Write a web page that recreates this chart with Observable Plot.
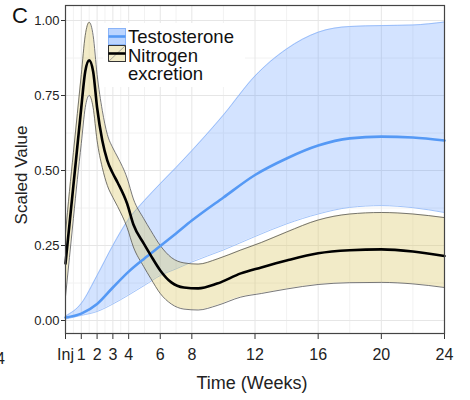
<!DOCTYPE html>
<html>
<head>
<meta charset="utf-8">
<script src="https://cdn.jsdelivr.net/npm/d3@7"></script>
<script src="https://cdn.jsdelivr.net/npm/@observablehq/plot@0.6"></script>
<style>
  body { margin: 0; background: #fff; }
  #chart { width: 470px; height: 400px; }
  svg text { font-family: "Liberation Sans", Arial, sans-serif; }
</style>
</head>
<body>
<div id="chart"></div>
<script>
// Testosterone: smoothed mean with confidence band (scaled 0–1)
const testoWeeks = [0, 1, 2, 3, 4, 5, 6, 7, 8, 10, 12, 14, 16, 18, 20, 22, 24];
const testoMean  = [0.01, 0.023, 0.055, 0.11, 0.163, 0.207, 0.248, 0.29, 0.333, 0.41, 0.485, 0.54, 0.583, 0.607, 0.613, 0.61, 0.60];
const testoLow   = [0.005, 0.017, 0.03, 0.055, 0.085, 0.117, 0.15, 0.172, 0.195, 0.235, 0.28, 0.322, 0.355, 0.377, 0.383, 0.376, 0.36];
const testoHigh  = [0.015, 0.057, 0.15, 0.25, 0.338, 0.40, 0.456, 0.51, 0.566, 0.685, 0.815, 0.905, 0.961, 0.98, 0.983, 0.985, 0.995];

// Nitrogen excretion: smoothed mean with confidence band (scaled 0–1)
const nitroWeeks = [0, 0.25, 0.5, 0.75, 1, 1.25, 1.5, 1.75, 2, 2.33, 2.65, 3, 3.3, 3.9, 4.3, 4.95, 5.4, 6, 6.7, 7.5, 8.4, 9.6, 11.1, 12.4, 14, 16, 18, 20, 22, 24];
const nitroMean  = [0.19, 0.32, 0.45, 0.58, 0.71, 0.83, 0.867, 0.83, 0.71, 0.60, 0.533, 0.49, 0.46, 0.39, 0.32, 0.257, 0.217, 0.167, 0.127, 0.11, 0.107, 0.123, 0.157, 0.177, 0.20, 0.224, 0.234, 0.237, 0.23, 0.215];
const nitroLow   = [0.08, 0.21, 0.34, 0.47, 0.59, 0.71, 0.75, 0.71, 0.60, 0.51, 0.45, 0.41, 0.38, 0.31, 0.245, 0.18, 0.14, 0.09, 0.055, 0.038, 0.035, 0.05, 0.078, 0.09, 0.105, 0.12, 0.126, 0.127, 0.122, 0.11];
const nitroHigh  = [0.29, 0.43, 0.56, 0.69, 0.82, 0.95, 0.994, 0.95, 0.82, 0.70, 0.62, 0.575, 0.545, 0.475, 0.405, 0.34, 0.30, 0.25, 0.21, 0.192, 0.188, 0.205, 0.235, 0.26, 0.295, 0.335, 0.355, 0.36, 0.355, 0.343];

// Axis ticks and labels
const xTicks      = [0, 1, 2, 3, 4, 6, 8, 12, 16, 20, 24];
const xTickLabels = ["Inj", "1", "2", "3", "4", "6", "8", "12", "16", "20", "24"];
const xMinor      = [0.5, 1.5, 2.5, 3.5, 5, 7, 10, 14, 18, 22];
const yTicks      = [0, 0.25, 0.5, 0.75, 1];
const yMinor      = [0.125, 0.375, 0.625, 0.875];

const seriesNames = ["Testosterone", "Nitrogen\nexcretion"];

const BLUE = "#5599f5", BLUE_FILL = "#3f87ff", BLUE_EDGE = "#8ab4f8";
const TAN_FILL = "#dac662", TAN_EDGE = "#555555";

const testo = testoWeeks.map((w, i) => ({week: w, mean: testoMean[i], lo: testoLow[i], hi: testoHigh[i]}));
const nitro = nitroWeeks.map((w, i) => ({week: w, mean: nitroMean[i], lo: nitroLow[i], hi: nitroHigh[i]}));

const curve = "monotone-x";

const chart = Plot.plot({
  width: 470,
  height: 400,
  marginLeft: 65,
  marginRight: 26,
  marginTop: 5,
  marginBottom: 67,
  style: {background: "white", color: "#222", fontFamily: "Liberation Sans, Arial, sans-serif", fontSize: "13px"},
  x: {domain: [0, 24]},
  y: {domain: [-13 / 300, 1.05]},
  marks: [
    // panel grid
    Plot.ruleX(xMinor, {stroke: "#f2f2f2", strokeWidth: 1}),
    Plot.ruleY(yMinor, {stroke: "#f2f2f2", strokeWidth: 1}),
    Plot.ruleX(xTicks, {stroke: "#e6e6e6", strokeWidth: 1}),
    Plot.ruleY(yTicks, {stroke: "#e6e6e6", strokeWidth: 1}),

    // confidence bands
    Plot.areaY(testo, {x: "week", y1: "lo", y2: "hi", curve, fill: BLUE_FILL, fillOpacity: 0.23}),
    Plot.line(testo, {x: "week", y: "hi", curve, stroke: BLUE_EDGE, strokeWidth: 0.8}),
    Plot.line(testo, {x: "week", y: "lo", curve, stroke: BLUE_EDGE, strokeWidth: 0.8}),
    Plot.areaY(nitro, {x: "week", y1: "lo", y2: "hi", curve, fill: TAN_FILL, fillOpacity: 0.35}),
    Plot.line(nitro, {x: "week", y: "hi", curve, stroke: TAN_EDGE, strokeWidth: 0.8}),
    Plot.line(nitro, {x: "week", y: "lo", curve, stroke: TAN_EDGE, strokeWidth: 0.8}),

    // smoothed means
    Plot.line(testo, {x: "week", y: "mean", curve, stroke: BLUE, strokeWidth: 2.6}),
    Plot.line(nitro, {x: "week", y: "mean", curve, stroke: "#000", strokeWidth: 2.6}),

    // axes
    Plot.axisX({ticks: xTicks, tickFormat: (d) => xTickLabels[xTicks.indexOf(d)], tickSize: 6, tickPadding: 9, fontSize: 16, label: null, stroke: "#333"}),
    Plot.axisY({ticks: yTicks, tickFormat: d3.format(".2f"), tickSize: 4, tickPadding: 2, fontSize: 13, label: null, stroke: "#333"}),
    Plot.frame({stroke: "#444", strokeWidth: 1.2})
  ]
});

document.getElementById("chart").appendChild(chart);

const svg = d3.select(chart);

// axis titles and panel letter
svg.append("text")
  .attr("transform", "translate(27,175) rotate(-90)")
  .attr("text-anchor", "middle")
  .attr("font-size", 17)
  .attr("fill", "#222")
  .text("Scaled Value");

svg.append("text")
  .attr("x", 252).attr("y", 389)
  .attr("text-anchor", "middle")
  .attr("font-size", 18)
  .attr("fill", "#222")
  .text("Time (Weeks)");

svg.append("text")
  .attr("x", 12).attr("y", 23)
  .attr("text-anchor", "start")
  .attr("font-size", 22)
  .attr("fill", "#111")
  .text("C");

svg.append("text")
  .attr("x", 5).attr("y", 364)
  .attr("text-anchor", "end")
  .attr("font-size", 16)
  .attr("fill", "#222")
  .text("4");

// legend inside the panel
const lg = svg.append("g").attr("text-anchor", "start");
lg.append("rect").attr("x", 103).attr("y", 23).attr("width", 142).attr("height", 64).attr("fill", "white");

// Testosterone key
lg.append("rect").attr("x", 108.5).attr("y", 28.5).attr("width", 17).attr("height", 16)
  .attr("fill", BLUE_FILL).attr("fill-opacity", 0.35).attr("stroke", BLUE_EDGE).attr("stroke-width", 1);
lg.append("line").attr("x1", 108.5).attr("x2", 125.5).attr("y1", 36.5).attr("y2", 36.5)
  .attr("stroke", BLUE).attr("stroke-width", 2.6);

// Nitrogen excretion key
lg.append("rect").attr("x", 108.5).attr("y", 45.5).attr("width", 17).attr("height", 16)
  .attr("fill", TAN_FILL).attr("fill-opacity", 0.35).attr("stroke", "#333").attr("stroke-width", 1);
lg.append("line").attr("x1", 108.5).attr("x2", 125.5).attr("y1", 61.5).attr("y2", 45.5)
  .attr("stroke", "#888").attr("stroke-width", 0.7);
lg.append("line").attr("x1", 108.5).attr("x2", 125.5).attr("y1", 53.5).attr("y2", 53.5)
  .attr("stroke", "#000").attr("stroke-width", 2.6);

lg.append("text").attr("x", 128).attr("y", 42.5).attr("text-anchor", "start").attr("font-size", 18.5).attr("fill", "#111").text(seriesNames[0]);
const nLines = seriesNames[1].split("\n");
lg.append("text").attr("x", 128).attr("y", 61.5).attr("text-anchor", "start").attr("font-size", 18.5).attr("fill", "#111").text(nLines[0]);
lg.append("text").attr("x", 128).attr("y", 80).attr("text-anchor", "start").attr("font-size", 18.5).attr("fill", "#111").text(nLines[1]);
</script>
</body>
</html>
